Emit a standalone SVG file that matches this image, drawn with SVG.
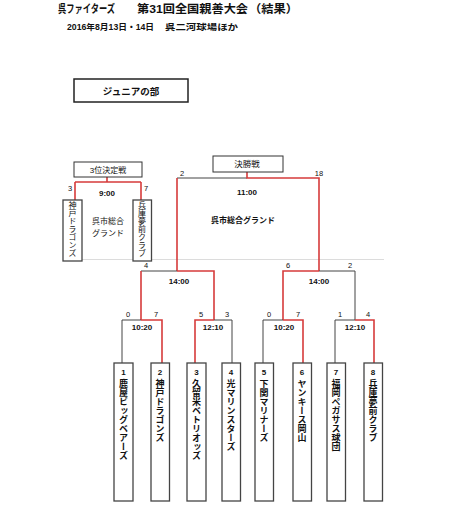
<svg xmlns="http://www.w3.org/2000/svg" width="454" height="516" viewBox="0 0 454 516">
<style>
text{font-family:"Liberation Sans","Noto Sans CJK JP",sans-serif;fill:#111;}
.t{font-size:11.5px;font-weight:bold;}
.st{font-size:8.5px;font-weight:bold;}
.hd{font-size:9.5px;font-weight:bold;text-anchor:middle;}
.lb{font-size:8px;text-anchor:middle;}
.tm{font-size:8px;font-weight:bold;text-anchor:middle;}
.sc{font-size:7.5px;text-anchor:middle;}
.num{font-size:8px;font-weight:bold;text-anchor:middle;}
.vt{font-family:"Noto Sans CJK JP",sans-serif;font-size:9px;font-weight:bold;writing-mode:vertical-rl;text-orientation:upright;}
.vs{font-family:"Noto Sans CJK JP",sans-serif;font-size:8px;writing-mode:vertical-rl;text-orientation:upright;}
.box{fill:#fff;stroke:#333;stroke-width:1;}
.tbox{fill:#fff;stroke:#444;stroke-width:1.3;}
.g{fill:none;stroke:#444;stroke-width:1;}
.r{fill:none;stroke:#d63b3b;stroke-width:1.6;}
</style>
<rect width="454" height="516" fill="#fff"/>
<g id="title">
<text class="t" x="58" y="13" textLength="57" lengthAdjust="spacingAndGlyphs">呉ファイターズ</text>
<text class="t" x="137" y="13" textLength="111" lengthAdjust="spacingAndGlyphs">第31回全国親善大会</text>
<text class="t" x="249" y="13" textLength="49" lengthAdjust="spacingAndGlyphs">（結果）</text>
<text class="st" x="67" y="29.5" textLength="87" lengthAdjust="spacingAndGlyphs">2016年8月13日・14日</text>
<text class="st" x="165" y="29.5" textLength="73" lengthAdjust="spacingAndGlyphs">呉二河球場ほか</text>
</g>
<line x1="82" y1="259.5" x2="384" y2="259.5" stroke="#dcdcdc" stroke-width="1"/>
<g id="connectors">
<path class="r" d="M107 177V182M75 182H141M75 182V200M141 182V200"/>
<path class="g" d="M177 178H247"/>
<path class="r" d="M247 172V178H319V271M177 178V271"/>
<path class="g" d="M141 271H177"/>
<path class="r" d="M177 271H214V320M141 271V320"/>
<path class="r" d="M283 320V271H319"/>
<path class="g" d="M319 271H355V320"/>
<path class="g" d="M122 363V320H141"/>
<path class="r" d="M141 320H162V363"/>
<path class="r" d="M195 363V320H214"/>
<path class="g" d="M214 320H232V363"/>
<path class="g" d="M263 363V320H283"/>
<path class="r" d="M283 320H303V363"/>
<path class="g" d="M335 363V320H355"/>
<path class="r" d="M355 320H374V363"/>
</g>
<g id="junior">
<rect x="74" y="79" width="114" height="23" fill="#fff" stroke="#222" stroke-width="1.5"/>
<text class="hd" x="131" y="94.5">ジュニアの部</text>
</g>
<g id="third-place">
<rect class="box" x="74" y="162" width="68" height="15"/>
<text class="lb" x="108" y="172.5">3位決定戦</text>
<text class="sc" x="70" y="191">3</text>
<text class="sc" x="146" y="191">7</text>
<text class="tm" x="107" y="196">9:00</text>
<text class="lb" x="108" y="224">呉市総合</text>
<text class="lb" x="108" y="235.5">グランド</text>
</g>
<g id="team-3rd-left">
<rect class="tbox" x="63" y="200" width="19" height="61"/>
<text class="vs" x="72.5" y="201">神戸ドラゴンズ</text>
</g>
<g id="team-3rd-right">
<rect class="tbox" x="133" y="200" width="18.5" height="61"/>
<text class="vs" x="142" y="201">兵庫夢前クラブ</text>
</g>
<g id="final">
<rect class="box" x="213" y="156" width="70" height="16"/>
<text class="lb" x="247" y="167" style="font-size:8.5px">決勝戦</text>
<text class="sc" x="182" y="176">2</text>
<text class="sc" x="319" y="176">18</text>
<text class="tm" x="247" y="195">11:00</text>
<text class="tm" x="243" y="223">呉市総合グランド</text>
</g>
<g id="semi1">
<text class="sc" x="146" y="268">4</text>
<text class="tm" x="179" y="284">14:00</text>
</g>
<g id="semi2">
<text class="sc" x="288" y="268">6</text>
<text class="sc" x="350" y="268">2</text>
<text class="tm" x="319" y="284">14:00</text>
</g>
<g id="qf1">
<text class="sc" x="128" y="317">0</text>
<text class="sc" x="156" y="317">7</text>
<text class="tm" x="142" y="330">10:20</text>
</g>
<g id="qf2">
<text class="sc" x="201" y="317">5</text>
<text class="sc" x="227" y="317">3</text>
<text class="tm" x="213" y="330">12:10</text>
</g>
<g id="qf3">
<text class="sc" x="269" y="317">0</text>
<text class="sc" x="298" y="317">7</text>
<text class="tm" x="284" y="330">10:20</text>
</g>
<g id="qf4">
<text class="sc" x="340" y="317">1</text>
<text class="sc" x="368" y="317">4</text>
<text class="tm" x="355" y="330">12:10</text>
</g>
<g id="team1">
<rect class="tbox" x="114" y="363" width="19" height="138"/>
<text class="num" x="123.5" y="375">1</text>
<text class="vt" x="123.5" y="379">鹿屋ビッグベアーズ</text>
</g>
<g id="team2">
<rect class="tbox" x="151" y="363" width="18.5" height="138"/>
<text class="num" x="160" y="375">2</text>
<text class="vt" x="160" y="379">神戸ドラゴンズ</text>
</g>
<g id="team3">
<rect class="tbox" x="187" y="363" width="19" height="138"/>
<text class="num" x="196.5" y="375">3</text>
<text class="vt" x="196.5" y="379">久留米ベトリオッズ</text>
</g>
<g id="team4">
<rect class="tbox" x="222" y="363" width="18.5" height="138"/>
<text class="num" x="231" y="375">4</text>
<text class="vt" x="231" y="379">光マリンスターズ</text>
</g>
<g id="team5">
<rect class="tbox" x="255" y="363" width="18.5" height="138"/>
<text class="num" x="264" y="375">5</text>
<text class="vt" x="264" y="379">下関マリナーズ</text>
</g>
<g id="team6">
<rect class="tbox" x="293" y="363" width="18.5" height="138"/>
<text class="num" x="302" y="375">6</text>
<text class="vt" x="302" y="379">ヤンキース岡山</text>
</g>
<g id="team7">
<rect class="tbox" x="327" y="363" width="18.5" height="138"/>
<text class="num" x="336" y="375">7</text>
<text class="vt" x="336" y="379">福岡ペガサス球団</text>
</g>
<g id="team8">
<rect class="tbox" x="364" y="363" width="18.5" height="138"/>
<text class="num" x="373" y="375">8</text>
<text class="vt" x="373" y="379">兵庫夢前クラブ</text>
</g>
</svg>
